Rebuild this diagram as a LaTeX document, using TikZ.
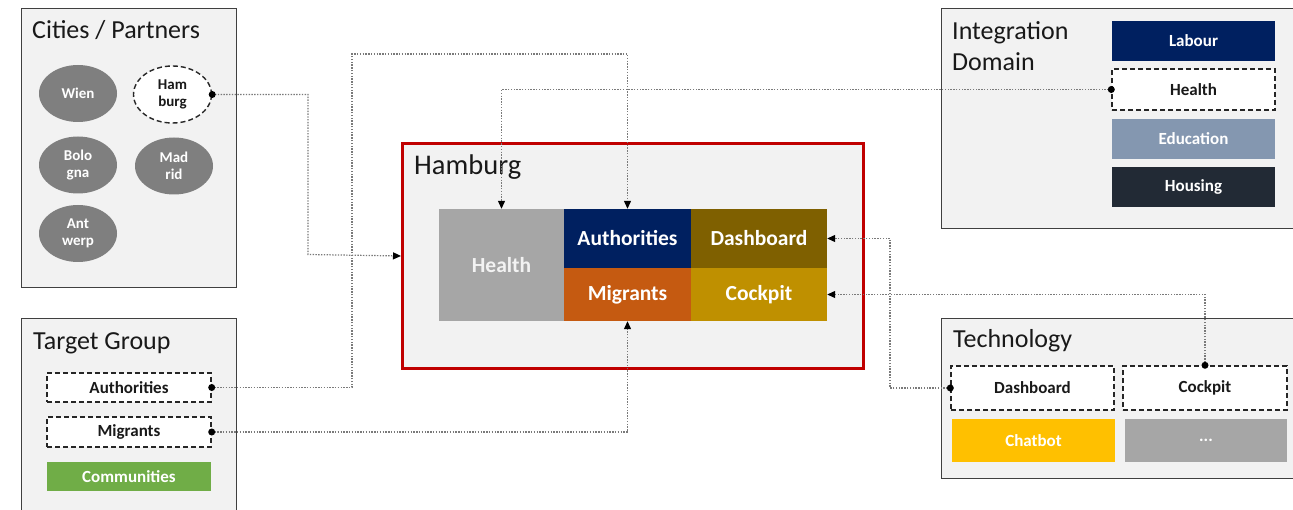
\documentclass[tikz,border=0pt]{standalone}
\usepackage{fontspec}
\setmainfont{Carlito}
\usetikzlibrary{arrows.meta,shapes.geometric}
\definecolor{panelfill}{HTML}{F2F2F2}
\definecolor{paneldraw}{HTML}{404040}
\definecolor{hbred}{HTML}{C00000}
\definecolor{navy}{HTML}{002060}
\definecolor{olive}{HTML}{7F6000}
\definecolor{rust}{HTML}{C55A11}
\definecolor{gold}{HTML}{BF9000}
\definecolor{midgray}{HTML}{A6A6A6}
\definecolor{ellgray}{HTML}{7F7F7F}
\definecolor{edublue}{HTML}{8497B0}
\definecolor{darkslate}{HTML}{222A35}
\definecolor{amber}{HTML}{FFC000}
\definecolor{leaf}{HTML}{70AD47}
\definecolor{connc}{HTML}{7A7A7A}
\tikzset{
  panel/.style={draw=paneldraw, line width=1.3pt, fill=panelfill, rectangle, inner sep=0pt, anchor=north west},
  ptitle/.style={anchor=base west, inner sep=0pt, font=\fontsize{26}{31}\selectfont, text=black!90},
  blk/.style={rectangle, inner sep=0pt, text=white, font=\bfseries\fontsize{17}{20}\selectfont},
  bigblk/.style={blk, font=\bfseries\fontsize{21.5}{25}\selectfont},
  dbox/.style={rectangle, inner sep=0pt, fill=white, draw=black!85, line width=1.4pt, dash pattern=on 5pt off 3pt, text=black!90, font=\bfseries\fontsize{17}{20}\selectfont},
  city/.style={ellipse, inner sep=0pt, minimum width=78pt, minimum height=57pt, fill=ellgray, text=white, align=center, font=\bfseries\fontsize{15}{17}\selectfont},
  conn/.style={draw=connc, line width=1.2pt, dash pattern=on 1.4pt off 1.4pt, -{Triangle[length=8pt,width=7pt,black]}},
  dot/.style={fill=black}
}
\begin{document}
\begin{tikzpicture}[x=1pt,y=-1pt]
\useasboundingbox (0,0) rectangle (1293,510);
\fill[white] (0,0) rectangle (1293,510);

% Cities / Partners
\node[panel, minimum width=215pt, minimum height=279pt] (cities) at (21,8) {};
\node[ptitle] (citiest) at (32,39) {Cities / Partners};
\node[city] (wien) at (78,93.5) {Wien};
\node[city, fill=white, draw=black!85, line width=1.4pt, dash pattern=on 5pt off 3pt, text=black!90] (ham) at (172.5,94.5) {Ham\\burg};
\node[city] (bolo) at (78,165) {Bolo\\gna};
\node[city] (mad) at (174,166) {Mad\\rid};
\node[city] (ant) at (78,233.5) {Ant\\werp};

% Target Group
\node[panel, minimum width=215pt, minimum height=200pt] (target) at (21,318) {};
\node[ptitle] (targett) at (33,350) {Target Group};
\node[dbox, minimum width=164pt, minimum height=29pt] (tauth) at (129,387.5) {Authorities};
\node[dbox, minimum width=164pt, minimum height=30pt] (tmig) at (129,432) {Migrants};
\node[blk, fill=leaf, minimum width=164pt, minimum height=29pt] (tcomm) at (129,476.5) {Communities};

% Integration Domain
\node[panel, minimum width=360pt, minimum height=220pt] (integ) at (941,8) {};
\node[ptitle, anchor=north west, align=left] (integt) at (952,21) {Integration\\Domain};
\node[blk, fill=navy, minimum width=163pt, minimum height=40pt] (labour) at (1193.5,41) {Labour};
\node[dbox, minimum width=163pt, minimum height=41pt] (ihealth) at (1193.5,89.5) {Health};
\node[blk, fill=edublue, minimum width=163pt, minimum height=40pt] (edu) at (1193.5,139) {Education};
\node[blk, fill=darkslate, minimum width=163pt, minimum height=40pt] (housing) at (1193.5,187) {Housing};

% Technology
\node[panel, minimum width=360pt, minimum height=160pt] (tech) at (941,318) {};
\node[ptitle] (techt) at (953,348) {Technology};
\node[dbox, minimum width=163pt, minimum height=44pt] (tdash) at (1032.5,388) {Dashboard};
\node[dbox, minimum width=164pt, minimum height=44pt] (tcock) at (1205,388) {Cockpit};
\node[blk, fill=amber, minimum width=163pt, minimum height=43pt] (chat) at (1033.5,440.5) {Chatbot};
\node[blk, fill=midgray, minimum width=162pt, minimum height=43pt] (more) at (1206,440.5) {...};

% Hamburg
\node[panel, draw=hbred, line width=3pt, minimum width=461pt, minimum height=225pt] (hb) at (401,142) {};
\node[ptitle, font=\fontsize{28.5}{33}\selectfont] (hbt) at (414,175) {Hamburg};
\node[bigblk, fill=midgray, text=panelfill, minimum width=125pt, minimum height=112pt] (hhealth) at (501.5,265) {Health};
\node[bigblk, fill=navy, minimum width=127pt, minimum height=59pt] (hauth) at (627.5,238.5) {Authorities};
\node[bigblk, fill=olive, minimum width=136pt, minimum height=59pt] (hdash) at (759,238.5) {Dashboard};
\node[bigblk, fill=rust, minimum width=127pt, minimum height=53pt] (hmig) at (627.5,294.5) {Migrants};
\node[bigblk, fill=gold, minimum width=136pt, minimum height=53pt] (hcock) at (759,294.5) {Cockpit};

% connectors
\coordinate (k1) at (308,254.5);
\coordinate (k2) at (352,54);
\coordinate (k5) at (890,238.5);
\draw[conn] (ham.east) -| (k1) -- (hb.west);
\draw[conn] (tauth.east) -| (k2) -| (hauth.north);
\draw[conn] (ihealth.west) -| (hhealth.north);
\draw[conn] (tmig.east) -| (hmig.south);
\draw[conn] (tdash.west) -| (k5) -- (hdash.east);
\draw[conn] (tcock.north) |- (hcock.east);
\foreach \p in {ham.east, tauth.east, ihealth.west, tmig.east, tdash.west, tcock.north}
  \fill[dot] (\p) circle (3.5pt);
\end{tikzpicture}
\end{document}
